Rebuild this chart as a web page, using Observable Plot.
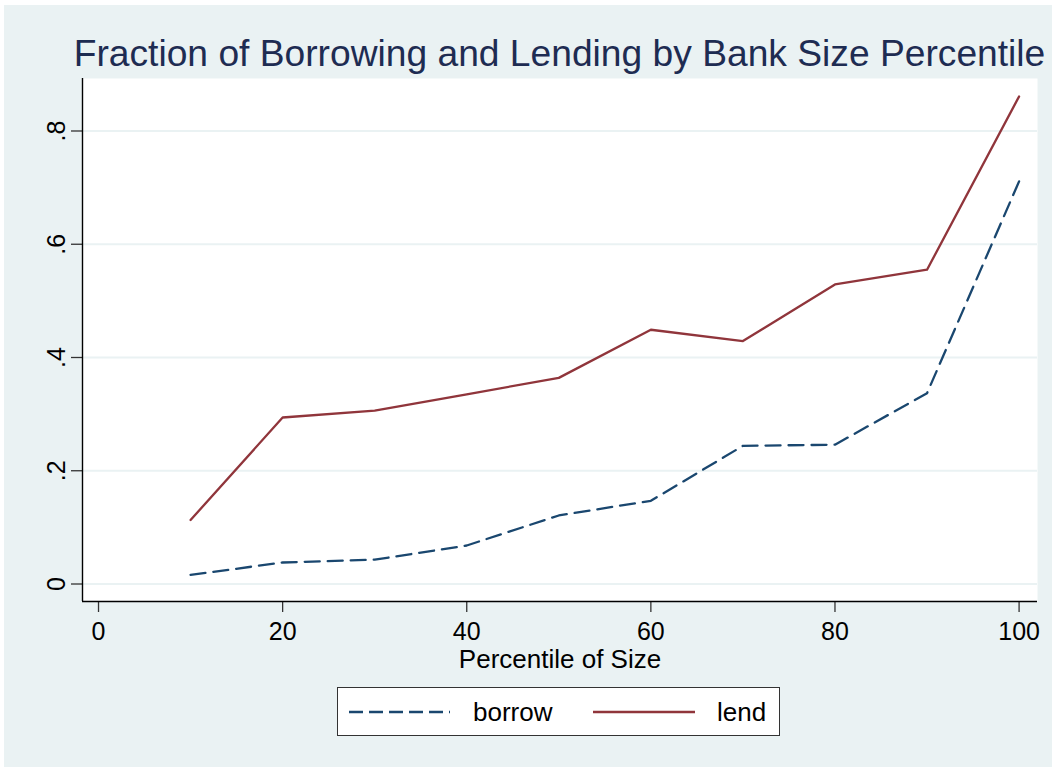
<!DOCTYPE html>
<html>
<head>
<meta charset="utf-8">
<script src="https://cdn.jsdelivr.net/npm/d3@7"></script>
<script src="https://cdn.jsdelivr.net/npm/@observablehq/plot@0.6"></script>
<style>
  html, body { margin: 0; padding: 0; background: #ffffff; }
  body { width: 1056px; height: 771px; position: relative; overflow: hidden;
         font-family: "Liberation Sans", Arial, Helvetica, sans-serif; }
  #bg { position: absolute; left: 4px; top: 5px; width: 1048px; height: 762px; background: #eaf2f3; }
  #title { position: absolute; left: 0; top: 35px; width: 1056px; box-sizing: border-box; padding-left: 63px;
           text-align: center; font-size: 37.2px; line-height: 37.2px; color: #1e2c52; white-space: nowrap; }
  #plot { position: absolute; left: 0; top: 78px; }
  #legend { position: absolute; left: 337px; top: 687px; width: 443px; height: 49px; background: #fff;
            border: 1px solid #333; box-sizing: border-box; }
  .lg-text { position: absolute; font-size: 26px; line-height: 26px; color: #000; top: 11px; }
  .lg-line { position: absolute; top: 0; left: 0; }
</style>
</head>
<body>
<div id="bg"></div>
<div id="title">Fraction of Borrowing and Lending by Bank Size Percentile</div>
<div id="plot"></div>
<div id="legend"></div>
<script>
// ---- data ----
const percentiles = [10, 20, 30, 40, 50, 60, 70, 80, 90, 100];
const borrow = [0.016, 0.038, 0.043, 0.068, 0.121, 0.147, 0.244, 0.246, 0.337, 0.711];
const lend   = [0.113, 0.294, 0.306, 0.335, 0.364, 0.449, 0.429, 0.529, 0.555, 0.861];
const seriesNames = ["borrow", "lend"];
const seriesColors = ["#1a476f", "#90353b"];
const xTicks = [0, 20, 40, 60, 80, 100];
const yTicks = [0, 0.2, 0.4, 0.6, 0.8];
const yTickLabels = ["0", ".2", ".4", ".6", ".8"];
const xLabel = "Percentile of Size";

// ---- table ----
const rows = [];
percentiles.forEach((p, i) => {
  rows.push({p, v: borrow[i], s: "borrow"});
  rows.push({p, v: lend[i], s: "lend"});
});
const xDomain = [-1.74, 102.0];
const yDomain = [-0.0309, 0.8927];
const font = '"Liberation Sans", Arial, Helvetica, sans-serif';
const dash = "15,8";

const chart = Plot.plot({
  width: 1056,
  height: 608,
  marginLeft: 82,
  marginRight: 19,
  marginTop: 0,
  marginBottom: 85,
  style: {background: "transparent", fontFamily: font, color: "#000", overflow: "visible"},
  x: {domain: xDomain, label: null},
  y: {domain: yDomain, label: null},
  marks: [
    Plot.frame({fill: "#ffffff", stroke: null}),
    Plot.gridY(yTicks, {stroke: "#eaf2f3", strokeOpacity: 1, strokeWidth: 2}),
    Plot.axisX(xTicks, {label: null, tickSize: 11, tickPadding: 10, fontSize: 25, stroke: "#333", strokeWidth: 1.3, tickFormat: d => String(d)}),
    Plot.axisY(yTicks, {label: null, tickSize: 11, stroke: "#333", strokeWidth: 1.3, tickFormat: () => ""}),
    Plot.text(yTicks, {y: d => d, text: (d, i) => yTickLabels[i], frameAnchor: "left", dx: -26,
      rotate: -90, textAnchor: "middle", lineAnchor: "middle", fontSize: 25, fill: "#000"}),
    Plot.text([xLabel], {text: d => d, frameAnchor: "bottom", dy: 58, lineAnchor: "middle", fontSize: 26, fill: "#000"}),
    Plot.ruleX([xDomain[0]], {stroke: "#000", strokeWidth: 1.4}),
    Plot.ruleY([yDomain[0]], {stroke: "#000", strokeWidth: 1.4}),
    Plot.line(rows.filter(d => d.s === "lend"), {x: "p", y: "v", stroke: seriesColors[1], strokeWidth: 2.3}),
    Plot.line(rows.filter(d => d.s === "borrow"), {x: "p", y: "v", stroke: seriesColors[0], strokeWidth: 2.3, strokeDasharray: dash})
  ]
});
document.getElementById("plot").appendChild(chart);

// ---- legend ----
const lg = document.getElementById("legend");
const ns = "http://www.w3.org/2000/svg";
const items = [
  {name: seriesNames[0], color: seriesColors[0], dash: "14,6", x0: 11, x1: 112, tx: 135},
  {name: seriesNames[1], color: seriesColors[1], dash: null, x0: 255, x1: 357, tx: 379}
];
const svg = document.createElementNS(ns, "svg");
svg.setAttribute("width", 440); svg.setAttribute("height", 46);
svg.setAttribute("class", "lg-line");
items.forEach(it => {
  const l = document.createElementNS(ns, "line");
  l.setAttribute("x1", it.x0); l.setAttribute("x2", it.x1);
  l.setAttribute("y1", 24); l.setAttribute("y2", 24);
  l.setAttribute("stroke", it.color); l.setAttribute("stroke-width", 2.3);
  if (it.dash) l.setAttribute("stroke-dasharray", it.dash);
  svg.appendChild(l);
  const t = document.createElement("div");
  t.className = "lg-text"; t.style.left = it.tx + "px"; t.textContent = it.name;
  lg.appendChild(t);
});
lg.appendChild(svg);
</script>
</body>
</html>
